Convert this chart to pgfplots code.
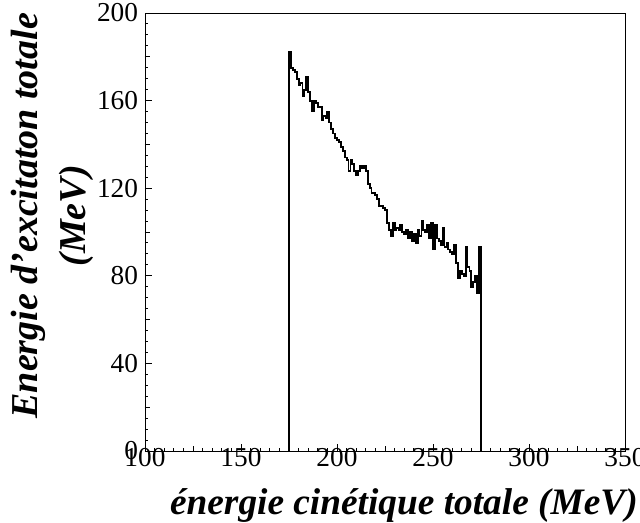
\documentclass[border=0pt]{standalone}
\usepackage{pgfplots}
\pgfplotsset{compat=1.18}
\usepackage{fontspec}
\setmainfont{Liberation Serif}
\begin{document}
\begin{tikzpicture}
\useasboundingbox (-108.75pt,-54pt) rectangle (371.25pt,338.25pt);
\begin{axis}[
  at={(0,0)}, anchor=south west,
  scale only axis, width=360pt, height=328.5pt,
  xmin=100, xmax=350, ymin=0, ymax=200,
  xtick={100,150,...,350}, ytick={0,40,...,200},
  minor x tick num=9, minor y tick num=7,
  extra x ticks={125,175,225,275,325}, extra x tick labels={},
  extra y ticks={20,60,100,140,180}, extra y tick labels={},
  extra tick style={major tick length=3.6pt, grid=none},
  tick align=inside, xtick pos=bottom, ytick pos=left,
  major tick length=5pt, minor tick length=2.4pt,
  axis line style={line width=0.7pt},
  tick style={line width=0.7pt, black},
  /pgf/number format/assume math mode=true,
  ticklabel style={font=\fontsize{20.5}{24}\selectfont},
  xticklabel style={inner sep=0pt, anchor=north, yshift=2.5pt},
  yticklabel style={inner sep=0pt, anchor=east, xshift=-5pt},
  xlabel={\textbf{\textit{énergie cinétique totale (MeV)}}},
  xlabel style={font=\fontsize{28}{32}\selectfont, at={(rel axis cs:1.027,-0.144)}, anchor=base east, inner sep=0pt},
  ylabel={\textbf{\textit{Energie d’excitaton totale}}\\[4pt]\textbf{\textit{(MeV)}}},
  ylabel style={font=\fontsize{28.5}{32}\selectfont, align=center, at={(rel axis cs:-0.194,0.537)}, anchor=center, inner sep=0pt},
]
\addplot[const plot mark left, black, line width=1.4pt] coordinates {
(175,0)
(175,182)(176,175)(177,174)(178,173)(179,170)(180,167)(181,168)(182,162)(183,165)(184,171)
(185,164)(186,160)(187,155)(188,160)(189,159)(190,157)(191,157)(192,151)(193,153)(194,152)
(195,155)(196,150)(197,147)(198,145)(199,143)(200,142)(201,141)(202,139)(203,137)(204,134)
(205,133)(206,128)(207,133)(208,131)(209,128)(210,126)(211,128)(212,130)(213,129)(214,130)
(215,128)(216,122)(217,120)(218,118)(219,118)(220,117)(221,115)(222,112)(223,112)(224,111)
(225,110)(226,104)(227,101)(228,98)(229,104)(230,101)(231,102)(232,101)(233,103)(234,100)
(235,99)(236,101)(237,97)(238,100)(239,96)(240,99)(241,95)(242,101)(243,98)(244,105)
(245,101)(246,100)(247,103)(248,97)(249,104)(250,92)(251,103)(252,97)(253,96)(254,94)
(255,102)(256,93)(257,95)(258,92)(259,91)(260,90)(261,94)(262,86)(263,79)(264,82)
(265,81)(266,80)(267,93)(268,84)(269,82)(270,75)(271,77)(272,80)(273,72)(274,93)
(275,93)(275,0)
};
\end{axis}
\end{tikzpicture}
\end{document}
